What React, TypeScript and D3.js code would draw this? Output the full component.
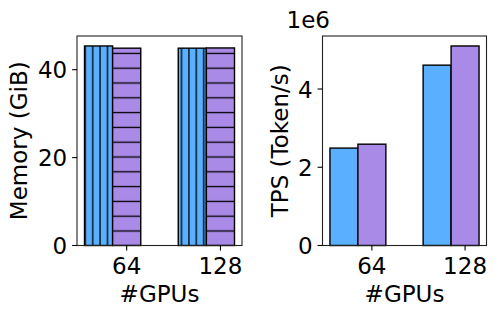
import React from "react";
import * as d3 from "d3";

const categories = ["64", "128"];
const memoryA = [45.4, 44.9];
const memoryB = [44.9, 44.95];
const tpsA = [2.49e6, 4.61e6];
const tpsB = [2.59e6, 5.1e6];
const memTicks = [0, 20, 40];
const tpsTicks = [0, 2e6, 4e6];

const W = 498, H = 316;
const TOP = 36, BOTTOM = 245.5;
const BLUE = "#5aafff";
const PURPLE = "#a98ae6";
const FONT = "DejaVu Sans, sans-serif";
const FS = 23;
const BW = 0.3;

type PanelProps = {
  x0: number; x1: number; a: number[]; b: number[]; ticks: number[];
  tickFmt: (v: number) => string; ylabel: string; ylabelX: number; hatch: boolean; offset?: string;
};

function Panel({ x0, x1, a, b, ticks, tickFmt, ylabel, ylabelX, hatch, offset }: PanelProps) {
  const x = d3.scaleLinear().domain([-0.53, 1.23]).range([x0, x1]);
  const ymax = d3.max([...a, ...b])! * 1.05;
  const y = d3.scaleLinear().domain([0, ymax]).range([BOTTOM, TOP]);
  const bw = x(BW) - x(0);
  return (
    <g>
      {categories.map((c, i) => (
        <g key={c}>
          <rect x={x(i - 1.5 * BW)} y={y(a[i])} width={bw} height={y(0) - y(a[i])} fill={BLUE} />
          {hatch && <rect x={x(i - 1.5 * BW)} y={y(a[i])} width={bw} height={y(0) - y(a[i])} fill="url(#hv)" />}
          <rect x={x(i - 1.5 * BW)} y={y(a[i])} width={bw} height={y(0) - y(a[i])} fill="none" stroke="#000" strokeWidth={1.4} />
          <rect x={x(i - 0.5 * BW)} y={y(b[i])} width={bw} height={y(0) - y(b[i])} fill={PURPLE} />
          {hatch && <rect x={x(i - 0.5 * BW)} y={y(b[i])} width={bw} height={y(0) - y(b[i])} fill="url(#hh)" />}
          <rect x={x(i - 0.5 * BW)} y={y(b[i])} width={bw} height={y(0) - y(b[i])} fill="none" stroke="#000" strokeWidth={1.4} />
        </g>
      ))}
      <rect x={x0} y={TOP} width={x1 - x0} height={BOTTOM - TOP} fill="none" stroke="#222" strokeWidth={1.1} />
      {ticks.map((t) => (
        <g key={t}>
          <line x1={x0} x2={x0 - 4.9} y1={y(t)} y2={y(t)} stroke="#000" strokeWidth={1.1} />
          <text x={x0 - 9.8} y={y(t) + 8.6} textAnchor="end" fontSize={FS} fontFamily={FONT}>{tickFmt(t)}</text>
        </g>
      ))}
      {categories.map((c, i) => (
        <g key={c}>
          <line x1={x(i)} x2={x(i)} y1={BOTTOM} y2={BOTTOM + 4.9} stroke="#000" strokeWidth={1.1} />
          <text x={x(i)} y={273.5} textAnchor="middle" fontSize={FS} fontFamily={FONT}>{c}</text>
        </g>
      ))}
      <text x={(x0 + x1) / 2} y={302} textAnchor="middle" fontSize={FS} fontFamily={FONT}>#GPUs</text>
      <text transform={`translate(${ylabelX},${(TOP + BOTTOM) / 2}) rotate(-90)`} textAnchor="middle" fontSize={FS} fontFamily={FONT}>{ylabel}</text>
      {offset && <text x={x0 - 36} y={28} fontSize={FS} fontFamily={FONT}>{offset}</text>}
    </g>
  );
}

export default function App() {
  return (
    <svg width={W} height={H} style={{ position: "absolute", left: 0, top: 0, background: "#fff" }}>
      <defs>
        <pattern id="hv" patternUnits="userSpaceOnUse" x={92.7 - 3.7} y={0} width={7.4} height={20}>
          <line x1={3.7} x2={3.7} y1={0} y2={20} stroke="#000" strokeWidth={1.3} />
        </pattern>
        <pattern id="hh" patternUnits="userSpaceOnUse" x={0} y={231 - 7.4} width={20} height={14.8}>
          <line x1={0} x2={20} y1={7.4} y2={7.4} stroke="#000" strokeWidth={1.3} />
        </pattern>
      </defs>
      <rect width={W} height={H} fill="#fff" />
      <Panel x0={77} x1={242} a={memoryA} b={memoryB} ticks={memTicks} tickFmt={(v) => String(v)}
        ylabel="Memory (GiB)" ylabelX={27} hatch={true} />
      <Panel x0={322.5} x1={486.5} a={tpsA} b={tpsB} ticks={tpsTicks} tickFmt={(v) => String(v / 1e6)}
        ylabel="TPS (Token/s)" ylabelX={288} hatch={false} offset="1e6" />
    </svg>
  );
}
